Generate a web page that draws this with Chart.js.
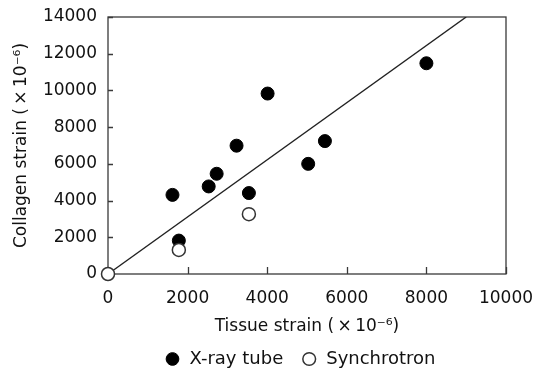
<!DOCTYPE html>
<html>
<head>
<meta charset="utf-8">
<script src="https://cdn.jsdelivr.net/npm/chart.js@4"></script>
<style>
  html, body { margin: 0; padding: 0; background: #fff; }
  #wrap { width: 533px; height: 374px; }
</style>
</head>
<body>
<div id="wrap"><canvas id="strain-chart" width="533" height="374"></canvas></div>
<script>
// X-ray tube measurements (tissue strain, collagen strain), x10^-6
const xrayTissue = [1620, 1780, 2530, 2730, 3230, 3540, 4010, 5030, 5450, 8000];
const xrayCollagen = [4310, 1820, 4770, 5460, 6990, 4410, 9830, 6000, 7240, 11480];

// Synchrotron measurements
const synTissue = [0, 1780, 3540];
const synCollagen = [0, 1310, 3260];

// Regression line end points
const fitTissue = [0, 9000];
const fitCollagen = [0, 14000];

// Axis ticks
const xTicks = [0, 2000, 4000, 6000, 8000, 10000];
const yTicks = [0, 2000, 4000, 6000, 8000, 10000, 12000, 14000];

const toPoints = (xs, ys) => xs.map((x, i) => ({ x: x, y: ys[i] }));

// Frame round the plot area and short inward tick marks
const framePlugin = {
  id: "frame",
  afterLayout(chart) {
    // nudge the legend a little to the left, as in the original
    chart.legend.left -= 7;
    chart.legend.right -= 7;
  },
  beforeDatasetsDraw(chart) {
    const { ctx, chartArea: a, scales } = chart;
    ctx.save();
    ctx.strokeStyle = "#3a3a3a";
    ctx.lineWidth = 1.3;
    ctx.strokeRect(a.left, a.top, a.right - a.left, a.bottom - a.top);
    ctx.beginPath();
    scales.x.ticks.forEach((t) => {
      const px = Math.round(scales.x.getPixelForValue(t.value)) + 0.5;
      ctx.moveTo(px, a.bottom);
      ctx.lineTo(px, a.bottom - 7);
    });
    scales.y.ticks.forEach((t) => {
      const py = Math.round(scales.y.getPixelForValue(t.value)) + 0.5;
      ctx.moveTo(a.left, py);
      ctx.lineTo(a.left + 5, py);
    });
    ctx.stroke();
    ctx.restore();
  },
};

const font = "'DejaVu Sans', sans-serif";

new Chart(document.getElementById("strain-chart"), {
  type: "scatter",
  data: {
    datasets: [
      {
        label: "Synchrotron",
        data: toPoints(synTissue, synCollagen),
        backgroundColor: "#fff",
        borderColor: "#333",
        borderWidth: 1.5,
        pointRadius: 6.5,
        clip: false,
      },
      {
        label: "X-ray tube",
        data: toPoints(xrayTissue, xrayCollagen),
        backgroundColor: "#000",
        borderColor: "#000",
        borderWidth: 1,
        pointRadius: 6.5,
      },
      {
        label: "fit",
        type: "line",
        data: toPoints(fitTissue, fitCollagen),
        borderColor: "#222",
        borderWidth: 1.4,
        pointRadius: 0,
        fill: false,
      },
    ],
  },
  options: {
    responsive: false,
    devicePixelRatio: 1,
    animation: false,
    layout: { padding: { left: 0, top: 17, right: 27, bottom: -4 } },
    scales: {
      x: {
        type: "linear",
        min: 0,
        max: 10000,
        afterBuildTicks: (s) => { s.ticks = xTicks.map((v) => ({ value: v })); },
        afterFit: (s) => {
          s.height = 58;
          s.paddingLeft = 0;
          s.paddingRight = 0;
        },
        grid: { display: false, drawTicks: false },
        border: { display: false },
        ticks: {
          color: "#111",
          padding: 14,
          maxRotation: 0,
          font: { family: font, size: 17 },
          callback: (v) => String(v),
        },
        title: {
          display: true,
          text: "Tissue strain (\u2009×\u200910⁻⁶)",
          color: "#111",
          font: { family: font, size: 17 },
          padding: { top: 0, bottom: -5 },
        },
      },
      y: {
        type: "linear",
        min: 0,
        max: 14000,
        afterBuildTicks: (s) => { s.ticks = yTicks.map((v) => ({ value: v })); },
        afterFit: (s) => {
          s.width = 108;
          s.paddingTop = 0;
          s.paddingBottom = 0;
        },
        grid: { display: false, drawTicks: false },
        border: { display: false },
        ticks: {
          color: "#111",
          padding: 11,
          font: { family: font, size: 17 },
          callback: (v) => String(v),
        },
        title: {
          display: true,
          text: "Collagen strain (\u2009×\u200910⁻⁶)",
          color: "#111",
          font: { family: font, size: 17 },
          padding: { top: 11, bottom: 0 },
        },
      },
    },
    plugins: {
      legend: {
        position: "bottom",
        fullSize: false,
        labels: {
          filter: (item) => item.text !== "fit",
          sort: (a, b) => b.datasetIndex - a.datasetIndex,
          usePointStyle: true,
          pointStyle: "circle",
          boxWidth: 16,
          boxHeight: 9,
          padding: 18,
          color: "#111",
          font: { family: font, size: 18, lineHeight: 1 },
        },
      },
      tooltip: { enabled: false },
    },
  },
  plugins: [framePlugin],
});
</script>
</body>
</html>
